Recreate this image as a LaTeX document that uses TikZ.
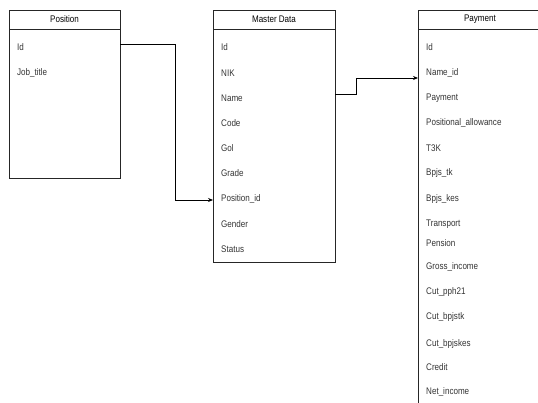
\documentclass[tikz,border=0pt]{standalone}
\usepackage{fontspec}
\setmainfont[FakeStretch=0.84]{Liberation Sans}
\usetikzlibrary{arrows.meta}
\begin{document}
\begin{tikzpicture}[x=1pt,y=-1pt,
  box/.style={draw=black!85,line width=0.9pt},
  hdr/.style={font=\fontsize{9.6}{10}\selectfont,anchor=center,inner sep=0pt},
  fld/.style={font=\fontsize{9.6}{10}\selectfont,anchor=west,inner sep=0pt,text=black!80},
  conn/.style={draw=black,line width=0.8pt}]
\useasboundingbox (0,0) rectangle (538,403);
\clip (0,0) rectangle (538,403);
% Position
\draw[box] (9,10) rectangle (120,178);
\draw[box] (9,29) -- (120,29);
\node[hdr] (posh) at (64.5,19.5) {Position};
\node[fld] (pid) at (17,47) {Id};
\node[fld] (pjob) at (17,73) {Job\_title};
\coordinate (posR) at (120,44);
% Master Data
\draw[box] (213,10) rectangle (335,262);
\draw[box] (213,29) -- (335,29);
\node[hdr] (mdh) at (274,19.5) {Master Data};
\foreach \t/\y/\n in {Id/47/m1,NIK/73/m2,Name/98/m3,Code/123/m4,Gol/148/m5,Grade/173/m6,Position\_id/199/m7,Gender/224/m8,Status/249/m9}
  \node[fld] (\n) at (221,\y) {\t};
\coordinate (mdL) at (213,200);
\coordinate (mdR) at (335,94);
% Payment
\draw[box] (418,410) -- (418,10) -- (542,10) -- (542,410);
\draw[box] (418,29) -- (542,29);
\node[hdr] (payh) at (480,19.5) {Payment};
\foreach \t/\y/\n in {Id/47/p1,Name\_id/73/p2,Payment/98/p3,Positional\_allowance/123/p4,T3K/148/p5,Bpjs\_tk/173/p6,Bpjs\_kes/199/p7,Transport/224/p8,Pension/243/p9,Gross\_income/267/p10,Cut\_pph21/292/p11,Cut\_bpjstk/317/p12,Cut\_bpjskes/344/p13,Credit/367/p14,Net\_income/392/p15}
  \node[fld] (\n) at (426,\y) {\t};
\coordinate (payL) at (418,78);
% connectors
\draw[conn,-{Stealth[length=5pt,width=4pt]}] (posR) -| (175,200) -- (mdL);
\draw[conn,-{Stealth[length=5pt,width=4pt]}] (mdR) -- (356,94) |- (payL);
\end{tikzpicture}
\end{document}
